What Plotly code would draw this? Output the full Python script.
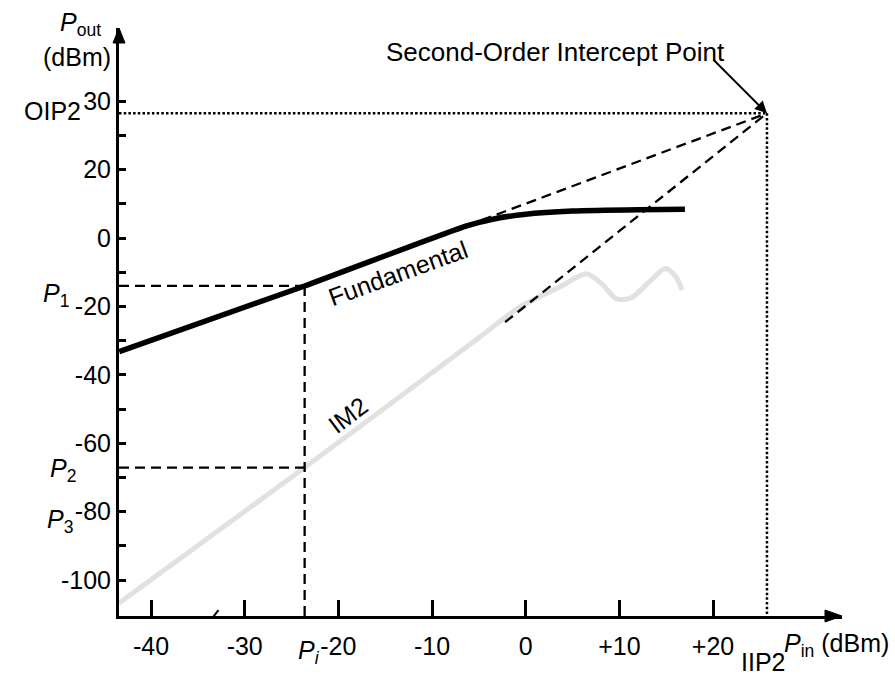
import plotly.graph_objects as go

# ---- data (dBm) ----
# Fundamental output vs. input power (linear gain region, then compression)
fund_pin = [-43.4, -23.6, -6.3, -3.4, 0.0, 5.0, 12.0, 17.0]
fund_pout = [-33.2, -14.0, 3.6, 5.6, 7.0, 7.9, 8.3, 8.4]

# Second-order intermodulation product (slope 2, then irregular)
im2_pin = [-43.4, -23.6, -4.9, -0.6, 3.7, 6.5, 8.2, 9.7, 11.3, 13.2, 14.9, 16.0, 16.7]
im2_pout = [-106.7, -67.1, -28.9, -20.1, -14.2, -10.4, -13.6, -17.8, -17.4, -12.8, -8.9, -11.2, -15.2]

# Extrapolation start points toward the intercept
fund_ext_start = (-6.3, 3.6)
im2_ext_start = (-2.2, -24.6)

# Intercept point and the operating point
iip2 = 25.76
oip2 = 36.5
p_i = -23.6
p_1 = -14.0
p_2 = -67.1

# Axis extents and ticks
x_range = [-43.42, 33.77]
y_range = [-110.5, 61.43]
x_tickvals = [-40, -30, -20, -10, 0, 10, 20]
x_ticktext = ["-40", "-30", "-20", "-10", "0", "+10", "+20"]
y_tickvals = [-100, -80, -60, -40, -20, 0, 20, 40]
y_ticktext = ["-100", "-80", "-60", "-40", "-20", "0", "20", "30"]
y_minor_tickvals = [-90, -70, -50, -30, -10, 10, 30]

# ---- layout geometry ----
W, H = 895, 678
ML, MR, MT, MB = 119, 53, 28, 62
PW, PH = W - ML - MR, H - MT - MB
FONT = "Liberation Sans, Arial, sans-serif"


def paper(px, py):
    return (px - ML) / PW, (H - MB - py) / PH


def label(text, px, py, xanchor="center", yanchor="middle", angle=0, size=25):
    x, y = paper(px, py)
    return dict(text=text, x=x, y=y, xref="paper", yref="paper", showarrow=False,
                xanchor=xanchor, yanchor=yanchor, textangle=angle,
                font=dict(size=size, color="black", family=FONT))


fig = go.Figure()

dash_style = dict(color="black", width=2.3, dash="10px,6px")
dot_style = dict(color="black", width=2.5, dash="2.5px,2.2px")
y_bottom = y_range[0]
x_left = x_range[0]

# IM2 curve
fig.add_trace(go.Scatter(x=im2_pin, y=im2_pout, mode="lines",
                         line=dict(color="#e1e1e1", width=5, shape="spline", smoothing=0.8)))

# Extrapolations to the intercept point
fig.add_trace(go.Scatter(x=[fund_ext_start[0], iip2], y=[fund_ext_start[1], oip2],
                         mode="lines", line=dash_style))
fig.add_trace(go.Scatter(x=[im2_ext_start[0], iip2], y=[im2_ext_start[1], oip2],
                         mode="lines", line=dash_style))

# Operating point guides
fig.add_trace(go.Scatter(x=[x_left, p_i], y=[p_1, p_1], mode="lines", line=dash_style))
fig.add_trace(go.Scatter(x=[x_left, p_i], y=[p_2, p_2], mode="lines", line=dash_style))
fig.add_trace(go.Scatter(x=[p_i, p_i], y=[p_1, y_bottom], mode="lines", line=dash_style))

# Intercept guides
fig.add_trace(go.Scatter(x=[x_left, iip2], y=[oip2, oip2], mode="lines", line=dot_style))
fig.add_trace(go.Scatter(x=[iip2, iip2], y=[oip2, y_bottom], mode="lines", line=dot_style))

# Fundamental curve
fig.add_trace(go.Scatter(x=fund_pin, y=fund_pout, mode="lines",
                         line=dict(color="black", width=5.5, shape="spline", smoothing=0.6)))

annotations = [
    label("<i>P</i><sub>out</sub>", 58, 24, xanchor="left"),
    label("(dBm)", 77, 57),
    label("OIP2", 52, 111),
    label("<i>P</i><sub>1</sub>", 41, 295, xanchor="left"),
    label("<i>P</i><sub>2</sub>", 48, 470, xanchor="left"),
    label("<i>P</i><sub>3</sub>", 45, 521, xanchor="left"),
    label("<i>P</i><sub><i>i</i></sub>", 296, 652, xanchor="left"),
    label("<i>P</i><sub>in</sub> (dBm)", 782, 645, xanchor="left"),
    label("IIP2", 763, 678, yanchor="bottom"),
    label("Second-Order Intercept Point", 384, 52, xanchor="left", size=26),
    label("Fundamental", 398, 273, angle=-20),
    label("IM2", 348, 415, angle=-37),
    dict(text="", x=iip2, y=oip2, xref="x", yref="y", showarrow=True,
         ax=-55, ay=-55, arrowhead=2, arrowsize=1.2, arrowwidth=2, arrowcolor="black"),
]

shapes = [
    # axis arrowheads
    dict(type="path", xref="paper", yref="paper", xsizemode="pixel", ysizemode="pixel",
         xanchor=0, yanchor=1, path="M-6,-15 L0,0 L6,-15 Z",
         fillcolor="black", line=dict(color="black", width=1)),
    dict(type="path", xref="paper", yref="paper", xsizemode="pixel", ysizemode="pixel",
         xanchor=1, yanchor=0, path="M-17,-6 L0,0 L-17,6 Z",
         fillcolor="black", line=dict(color="black", width=1)),
    # small slash on the input axis
    dict(type="line", xref="x", yref="y", x0=-33.35, y0=-110.7, x1=-32.8, y1=-108.8,
         line=dict(color="black", width=2)),
]

fig.update_layout(
    width=W, height=H,
    margin=dict(l=ML, r=MR, t=MT, b=MB, pad=0),
    paper_bgcolor="white", plot_bgcolor="white",
    showlegend=False,
    font=dict(family=FONT, size=25, color="black"),
    annotations=annotations,
    shapes=shapes,
    xaxis=dict(range=x_range, showgrid=False, zeroline=False, showline=True,
               linecolor="black", linewidth=2.5, ticks="inside", ticklen=16, tickwidth=2.5,
               tickcolor="black", tickvals=x_tickvals, ticktext=x_ticktext,
               tickfont=dict(size=25, family=FONT, color="black"), ticklabelstandoff=6),
    yaxis=dict(range=y_range, showgrid=False, zeroline=False, showline=True,
               linecolor="black", linewidth=3, ticks="inside", ticklen=7, tickwidth=2.5,
               tickcolor="black", tickvals=y_tickvals, ticktext=y_ticktext,
               tickfont=dict(size=25, family=FONT, color="black"),
               minor=dict(tickmode="array", tickvals=y_minor_tickvals, ticks="inside",
                          ticklen=7, tickwidth=2.5, tickcolor="black", showgrid=False)),
)

fig.write_html("out.html")
